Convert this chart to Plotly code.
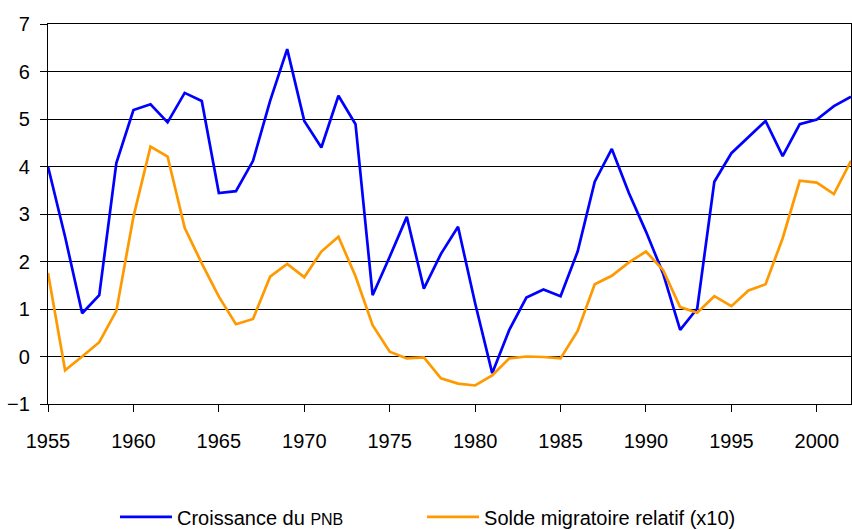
import plotly.graph_objects as go

years = list(range(1955, 2003))
croissance_pnb = [4.0, 2.52, 0.91, 1.29, 4.07, 5.19, 5.31, 4.93, 5.55, 5.38,
                  3.44, 3.48, 4.12, 5.38, 6.47, 4.96, 4.40, 5.49, 4.89, 1.29,
                  2.10, 2.94, 1.43, 2.16, 2.73, 1.12, -0.35, 0.56, 1.24, 1.41,
                  1.27, 2.21, 3.68, 4.37, 3.44, 2.63, 1.75, 0.56, 1.01, 3.68,
                  4.28, 4.61, 4.96, 4.22, 4.89, 4.99, 5.27, 5.47]
solde_migratoire = [1.76, -0.29, 0.0, 0.30, 0.96, 2.94, 4.42, 4.21, 2.71, 1.96,
                    1.26, 0.68, 0.79, 1.68, 1.95, 1.67, 2.21, 2.52, 1.69, 0.66,
                    0.10, -0.04, -0.02, -0.46, -0.57, -0.61, -0.40, -0.04, 0.0, -0.01,
                    -0.04, 0.54, 1.52, 1.70, 1.98, 2.21, 1.82, 1.04, 0.92, 1.27,
                    1.06, 1.39, 1.52, 2.49, 3.70, 3.66, 3.42, 4.12]
x_ticks = [1955, 1960, 1965, 1970, 1975, 1980, 1985, 1990, 1995, 2000]
y_ticks = [-1, 0, 1, 2, 3, 4, 5, 6, 7]

fig = go.Figure()
fig.add_trace(go.Scatter(x=years, y=croissance_pnb, mode="lines",
                         name='Croissance du <span style="font-size:16px">PNB</span>',
                         line=dict(color="#0000FF", width=2.7), legend="legend"))
fig.add_trace(go.Scatter(x=years, y=solde_migratoire, mode="lines",
                         name="Solde migratoire relatif (x10)",
                         line=dict(color="#FF9900", width=2.7), legend="legend2"))

legend_common = dict(orientation="h", xanchor="left", y=-0.297, yanchor="middle",
                     font=dict(size=20), itemwidth=52, bgcolor="rgba(0,0,0,0)")

fig.update_layout(
    width=852, height=530,
    margin=dict(l=48, r=1, t=24, b=126, autoexpand=False),
    paper_bgcolor="white", plot_bgcolor="white",
    font=dict(family="Liberation Sans, Arial, sans-serif", size=20, color="black"),
    showlegend=True,
    legend=dict(x=0.0834, **legend_common),
    legend2=dict(x=0.4658, **legend_common),
    xaxis=dict(range=[1955, 2002], tickvals=x_ticks, ticks="outside", ticklen=7,
               tickcolor="black", showgrid=False, showline=True, linecolor="black",
               linewidth=1.2, mirror=True, zeroline=False, ticklabelstandoff=12,
               automargin=False),
    yaxis=dict(range=[-1, 7], tickvals=y_ticks, ticks="outside", ticklen=7,
               tickcolor="black", showgrid=True, gridcolor="black", gridwidth=1.2,
               showline=True, linecolor="black", linewidth=1.2, mirror=True,
               zeroline=False, ticklabelstandoff=6, automargin=False),
)

fig.write_html("out.html", config={"displayModeBar": False},
               post_script="document.body.style.margin='0';document.body.style.padding='0';")
